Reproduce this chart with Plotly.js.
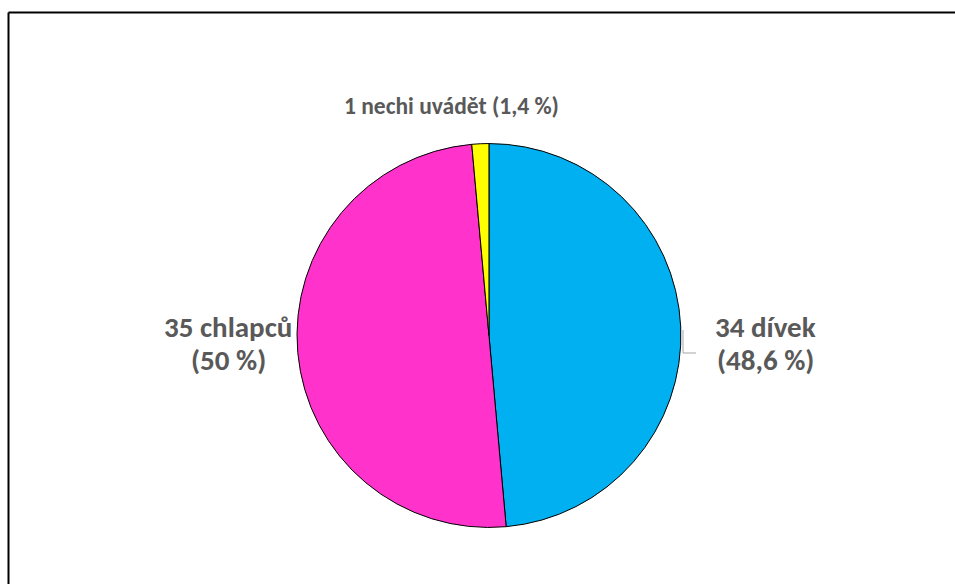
<!DOCTYPE html>
<html>
<head>
<meta charset="utf-8">
<script src="https://cdn.plot.ly/plotly-3.0.1.min.js"></script>
<style>html,body{margin:0;padding:0;background:#fff;}#chart{width:955px;height:584px;}</style>
</head>
<body>
<div id="chart"></div>
<script>
const labels = ["dívek", "chlapců", "nechi uvádět"];
const counts = [34, 35, 1];
const percentLabels = ["48,6 %", "50 %", "1,4 %"];
const colors = ["#00B0F0", "#FF33CC", "#FFFF00"];

const FONT = "Carlito, Calibri, Lato, 'Open Sans', sans-serif";
const TXT = "#595959";

const trace = {
  type: "pie",
  labels: labels,
  values: counts,
  sort: false,
  direction: "clockwise",
  rotation: 0,
  marker: { colors: colors, line: { color: "#000000", width: 1 } },
  textinfo: "none",
  hoverinfo: "label+value+percent",
  domain: { x: [0.311, 0.713], y: [0.0967, 0.7543] },
  showlegend: false
};

// label placement (pixels): two-line labels use y1/y2, single-line uses y1
const annPos = [
  { x: 765, y1: 327, y2: 360, size: 29, twoLine: true },
  { x: 228, y1: 327, y2: 360, size: 29, twoLine: true },
  { x: 451.5, y1: 106, size: 23.5, twoLine: false }
];

const px = v => v / 955, py = v => 1 - v / 584;

const annotations = [];
labels.forEach((lab, i) => {
  const p = annPos[i];
  const mk = (text, y) => ({
    x: px(p.x), y: py(y), xref: "paper", yref: "paper",
    text: `<b>${text}</b>`, showarrow: false, xanchor: "center", yanchor: "middle",
    align: "center",
    font: { family: FONT, size: p.size, color: TXT }
  });
  if (p.twoLine) {
    annotations.push(mk(`${counts[i]} ${lab}`, p.y1));
    annotations.push(mk(`(${percentLabels[i]})`, p.y2));
  } else {
    annotations.push(mk(`${counts[i]} ${lab} (${percentLabels[i]})`, p.y1));
  }
});

const layout = {
  width: 955, height: 584,
  margin: { l: 0, r: 0, t: 0, b: 0 },
  paper_bgcolor: "#ffffff",
  annotations: annotations,
  shapes: [
    { type: "line", xref: "paper", yref: "paper", x0: px(8.5), x1: 1.01, y0: py(12.5), y1: py(12.5), line: { color: "#000", width: 2 } },
    { type: "line", xref: "paper", yref: "paper", x0: px(8.5), x1: px(8.5), y0: py(12.5), y1: -0.01, line: { color: "#000", width: 2 } },
    { type: "path", xref: "paper", yref: "paper",
      path: `M ${px(683)} ${py(330)} L ${px(683)} ${py(353)} L ${px(696)} ${py(353)}`,
      line: { color: "#A6A6A6", width: 1 } }
  ]
};

Plotly.newPlot("chart", [trace], layout, { displayModeBar: false, staticPlot: true });
</script>
</body>
</html>
